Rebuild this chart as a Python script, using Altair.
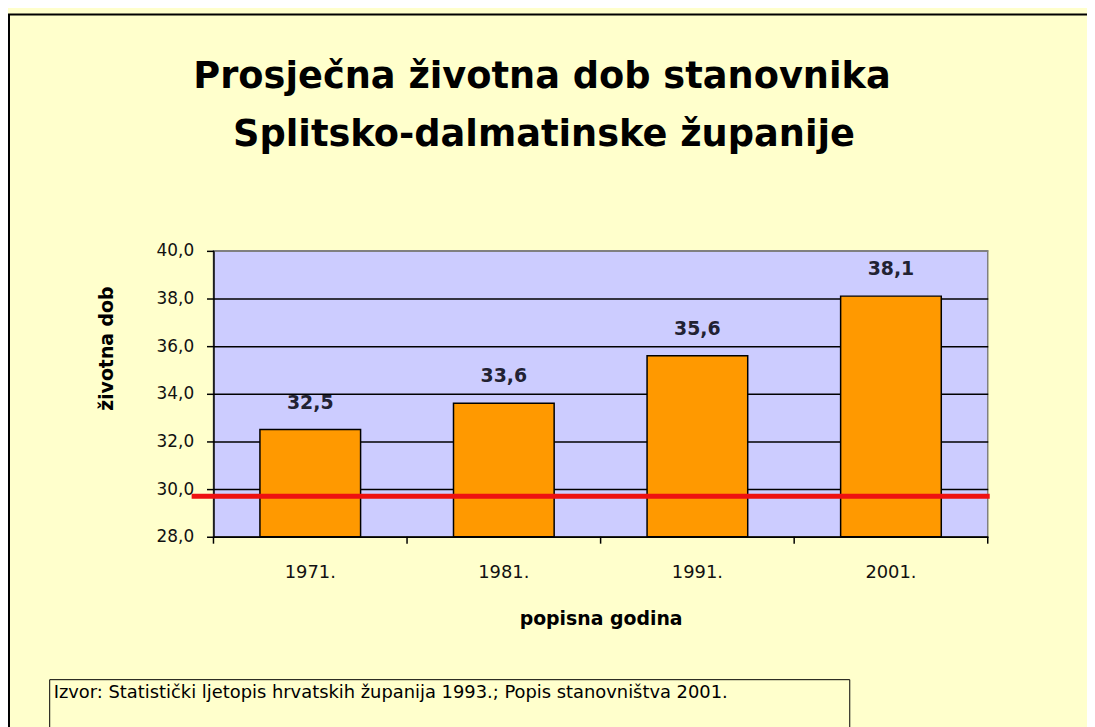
import altair as alt
import pandas as pd

# ---- data ----
YEARS = ["1971.", "1981.", "1991.", "2001."]
AGES = [32.5, 33.6, 35.6, 38.1]
REFERENCE_LINE = [29.7]
Y_TICKS = [28, 30, 32, 34, 36, 38, 40]
TITLE_LINES = ["Prosječna životna dob stanovnika", "Splitsko-dalmatinske županije"]
X_TITLE = "popisna godina"
Y_TITLE = "životna dob"
SOURCE = "Izvor: Statistički ljetopis hrvatskih županija 1993.; Popis stanovništva 2001."

FONT = "DejaVu Sans"
df = pd.DataFrame({"godina": YEARS, "dob": AGES})
one = pd.DataFrame({"k": [0]})

W, H = 780, 288
PAD_L, PAD_T = 207, 242
TOTAL_W, TOTAL_H = 1087, 719

yscale = alt.Scale(domain=[Y_TICKS[0], Y_TICKS[-1]], zero=False, nice=False)
xscale = alt.Scale(paddingInner=0.48, paddingOuter=0.24)

base = alt.Chart(df)

bars = base.mark_bar(fill="#FF9900", stroke="black", strokeWidth=1.5).encode(
    x=alt.X("godina:N", sort=None, scale=xscale,
            axis=alt.Axis(title=X_TITLE, labelAngle=0, ticks=False, grid=False,
                          domainColor="black", domainWidth=1.5,
                          labelFont=FONT, labelFontSize=18, labelColor="#111111",
                          labelPadding=27,
                          titleFont=FONT, titleFontSize=19, titleFontWeight="bold",
                          titleColor="black", titleX=W / 2, titleY=82,
                          titleBaseline="middle", titleAlign="center")),
    y=alt.Y("dob:Q", scale=yscale,
            axis=alt.Axis(title=Y_TITLE, values=Y_TICKS,
                          labelExpr="replace(format(datum.value, '.1f'), '.', ',')",
                          grid=True, gridWidth=1.5,
                          gridColor={"condition": {"test": "datum.value === 40", "value": "#808080"},
                                     "value": "black"},
                          domainColor="black", domainWidth=1.5,
                          tickColor="black", tickSize=7, tickWidth=1.5,
                          labelFont=FONT, labelFontSize=17, labelColor="#111111",
                          labelPadding=13,
                          titleFont=FONT, titleFontSize=19, titleFontWeight="bold",
                          titleColor="black", titleX=-108, titleY=98,
                          titleBaseline="middle", titleAlign="center")),
    y2=alt.datum(Y_TICKS[0]),
)

labels = base.transform_calculate(
    lab="replace(format(datum.dob, '.1f'), '.', ',')"
).mark_text(font=FONT, fontSize=19, fontWeight="bold", color="#222233",
            baseline="middle", dy=-27).encode(
    x=alt.X("godina:N", sort=None, scale=xscale, axis=None),
    y=alt.Y("dob:Q", scale=yscale),
    text="lab:N",
)

red = alt.Chart(pd.DataFrame({"ref": REFERENCE_LINE})).mark_rule(
    color="#EE1111", strokeWidth=5).encode(
    y=alt.Y("ref:Q", scale=yscale),
    x=alt.value(-22), x2=alt.value(W + 2),
)

ticks = alt.Chart(df).mark_rule(color="black", strokeWidth=1.5).encode(
    x=alt.X("godina:N", sort=None, scale=alt.Scale(padding=0), bandPosition=0, axis=None),
    y=alt.value(H), y2=alt.value(H + 7),
)
tick_end = alt.Chart(one).mark_rule(color="black", strokeWidth=1.5).encode(
    x=alt.value(W), y=alt.value(H), y2=alt.value(H + 7),
)

title1 = alt.Chart(one).mark_text(text=TITLE_LINES[0], font=FONT, fontSize=37,
                                  fontWeight="bold", color="black",
                                  align="center", baseline="middle").encode(
    x=alt.value(331), y=alt.value(-175))
title2 = alt.Chart(one).mark_text(text=TITLE_LINES[1], font=FONT, fontSize=37,
                                  fontWeight="bold", color="black",
                                  align="center", baseline="middle").encode(
    x=alt.value(333), y=alt.value(-117))

frame = alt.Chart(one).mark_rect(filled=False, stroke="black", strokeWidth=2).encode(
    x=alt.value(-206), x2=alt.value(900), y=alt.value(-238), y2=alt.value(600))

src_box = alt.Chart(one).mark_rect(filled=False, stroke="black", strokeWidth=1).encode(
    x=alt.value(-165), x2=alt.value(641), y=alt.value(432), y2=alt.value(600))
src_text = alt.Chart(one).mark_text(text=SOURCE, font=FONT, fontSize=18, color="black",
                                    align="left", baseline="middle").encode(
    x=alt.value(-161), y=alt.value(445))

chart = alt.layer(
    bars, labels, red, ticks, tick_end, title1, title2, frame, src_box, src_text
).resolve_scale(x="independent").properties(
    width=W, height=H,
    autosize=alt.AutoSizeParams(type="none"),
    padding={"left": PAD_L, "top": PAD_T,
             "right": TOTAL_W - PAD_L - W, "bottom": TOTAL_H - PAD_T - H},
    background="#FFFFCC",
).configure_view(
    fill="#CCCCFF", stroke="#808080", strokeWidth=1.5
)

chart.save("out.html", embed_options={"renderer": "svg", "actions": False})
